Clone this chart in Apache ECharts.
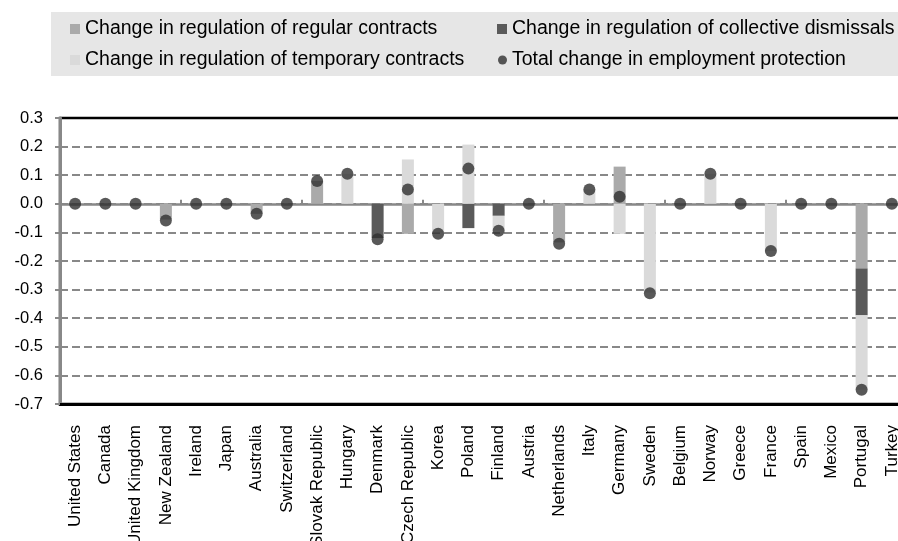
<!DOCTYPE html>
<html>
<head>
<meta charset="utf-8">
<script src="https://cdn.jsdelivr.net/npm/echarts@6/dist/echarts.min.js"></script>
<style>html,body{margin:0;padding:0;background:#fff;overflow:hidden;}#c{width:898px;height:541px;}</style>
</head>
<body>
<div id="c"></div>
<script>
var categories = ["United States","Canada","United Kingdom","New Zealand","Ireland","Japan","Australia","Switzerland","Slovak Republic","Hungary","Denmark","Czech Republic","Korea","Poland","Finland","Austria","Netherlands","Italy","Germany","Sweden","Belgium","Norway","Greece","France","Spain","Mexico","Portugal","Turkey"];
var regular    = [0,0,0,-0.055,0,0,-0.035,0,0.08,0,0,-0.105,0,0,0,0,-0.135,0,0.13,0,0,0,0,0,0,0,-0.226,0];
var collective = [0,0,0,0,0,0,0,0,0,0,-0.12,0,0,-0.085,-0.042,0,0,0,0,0,0,0,0,0,0,0,-0.164,0];
var temporary  = [0,0,0,0,0,0,0,0,0,0.105,0,0.155,-0.1,0.207,-0.05,0,0,0.05,-0.105,-0.31,0,0.105,0,-0.165,0,0,-0.26,0];
var total      = [0,0,0,-0.058,0,0,-0.035,0,0.08,0.105,-0.124,0.05,-0.105,0.123,-0.094,0,-0.14,0.05,0.025,-0.313,0,0.105,0,-0.165,0,0,-0.65,0];
var names = ["Change in regulation of regular contracts","Change in regulation of collective dismissals","Change in regulation of temporary contracts","Total change in employment protection"];
var FONT = "Arial, 'Liberation Sans', sans-serif";

var chart = echarts.init(document.getElementById('c'), null, {renderer:'canvas'});
function lg(name, left, top, icon, size){
  return {data:[{name:name, icon:icon}], left:left, top:top, itemWidth:size, itemHeight:size, itemGap:0, padding:0,
    textStyle:{fontFamily:FONT, fontSize:19.5, color:'#000'}, selectedMode:false};
}
chart.setOption({
  animation:false,
  graphic:[{type:'rect', left:51, top:12, shape:{width:847, height:64}, style:{fill:'#e6e6e6'}, z:-1}],
  legend:[
    lg(names[0], 70, 19, 'rect', 10),
    lg(names[1], 497, 19, 'rect', 10),
    lg(names[2], 70, 50, 'rect', 10),
    lg(names[3], 498, 50, 'circle', 9)
  ],
  grid:{left:60, width:847, top:118, height:286, containLabel:false, outerBoundsMode:'none',
        show:true, borderColor:'#000', borderWidth:2.5, backgroundColor:'transparent'},
  xAxis:[
    {type:'category', data:categories, position:'bottom', boundaryGap:true,
     axisLine:{onZero:false, lineStyle:{color:'#000', width:3}}, axisTick:{show:false},
     axisLabel:{rotate:90, interval:0, fontFamily:FONT, fontSize:17, color:'#000', margin:21}},
    {type:'category', data:categories, position:'top', boundaryGap:true,
     axisLine:{onZero:true, lineStyle:{color:'#888', width:2.5}},
     axisTick:{show:true, inside:false, length:4, lineStyle:{color:'#888', width:2}},
     axisLabel:{show:false}}
  ],
  yAxis:{type:'value', min:-0.7, max:0.3, interval:0.1,
    axisLine:{show:true, lineStyle:{color:'#888', width:3}},
    axisTick:{show:true, length:5, lineStyle:{color:'#888', width:2}},
    axisLabel:{fontFamily:FONT, fontSize:16.5, color:'#000', margin:17, formatter:function(v){return v.toFixed(1);}},
    splitLine:{show:true, showMinLine:false, showMaxLine:false, lineStyle:{color:'#888', width:2, type:[8,4]}}},
  series:[
    {name:names[0], type:'bar', stack:'a', data:regular, barWidth:12, itemStyle:{color:'#aaaaaa'}},
    {name:names[1], type:'bar', stack:'a', data:collective, barWidth:12, itemStyle:{color:'#5a5a5a'}},
    {name:names[2], type:'bar', stack:'a', data:temporary, barWidth:12, itemStyle:{color:'#dadada'}},
    {name:names[3], type:'scatter', data:total, symbol:'circle', symbolSize:12, itemStyle:{color:'#2f2f2f'}, z:5}
  ]
});
</script>
</body>
</html>
